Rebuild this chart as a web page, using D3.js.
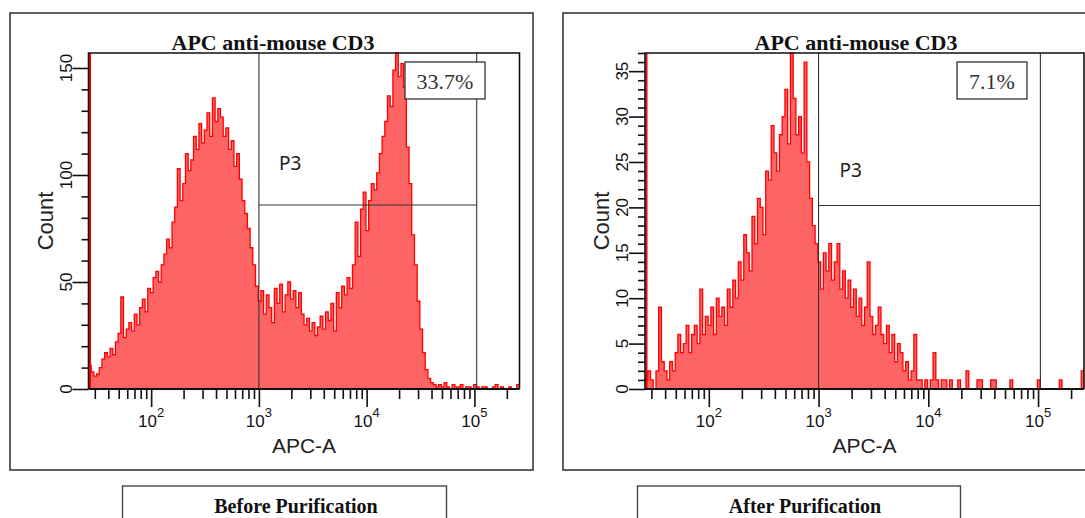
<!DOCTYPE html>
<html>
<head>
<meta charset="utf-8">
<script src="https://cdn.jsdelivr.net/npm/d3@7"></script>
<style>
  html, body { margin: 0; padding: 0; background: #fff; }
  svg { display: block; }
</style>
</head>
<body>
<svg id="chart" width="1085" height="518"></svg>
<script>
// APC-A intensity histograms, 160 equal-width bins on a 4-decade log axis
const xDomain = [26.2144, 262144];
const binCount = 160;

const beforeCounts = [
  11, 8, 6, 7, 10, 14, 17, 15, 19, 16, 22, 26, 43, 24, 28,
  31, 27, 35, 30, 38, 42, 36, 47, 45, 52, 55, 50, 58, 63, 70, 66,
  78, 85, 103, 88, 96, 110, 102, 107, 118, 112, 124, 115, 121, 129,
  118, 136, 125, 131, 127, 118, 122, 112, 116, 104, 110, 98, 88, 82, 75,
  66, 58, 48, 41, 46, 35, 44, 38, 31, 47, 40, 49, 36, 44, 50,
  42, 46, 38, 45, 35, 30, 33, 27, 31, 25, 29, 34, 28, 36, 32, 40,
  27, 45, 38, 48, 44, 52, 47, 58, 78, 62, 84, 92, 74, 88, 96, 93,
  101, 110, 118, 125, 137, 132, 149, 157, 146, 152, 141, 113, 96, 72,
  58, 41, 28, 17, 9, 5,
  3, 2, 1, 2, 1, 3, 1, 0, 2, 1, 1, 2, 0, 1, 1, 0, 2, 1, 0, 1,
  1, 0, 0, 1, 2, 0, 1, 0, 0, 1, 0, 0, 2
];

const afterCounts = [
  1, 2, 1, 0, 2, 9, 3, 2, 1, 3, 2, 4, 6, 4, 5, 7, 4, 6,
  7, 5, 11, 6, 8, 7, 9, 6, 10, 8, 9, 7, 11, 9, 12, 10,
  14, 12, 17, 15, 13, 19, 16, 21, 20, 17, 24, 23, 29, 26, 24, 28,
  30, 33, 27, 37, 32, 28, 30, 26, 36, 25, 21, 18, 16, 14, 11, 15,
  13, 16, 12, 14, 16, 11, 13, 10, 12, 9, 11, 8, 10, 7, 9, 14,
  8, 6, 7, 9, 6, 5, 7, 4, 6, 3, 5, 4, 2, 3, 1, 2, 6, 1, 1, 0,
  1, 0, 1, 4,
  1, 0, 1, 1, 0, 1, 0, 0, 1, 0, 0, 2, 0, 0, 0, 1, 1, 0, 0, 0,
  1, 1, 0, 0, 0, 0, 0, 1, 0, 0, 0, 0, 0, 0, 0, 0, 0, 1, 0, 0,
  0, 0, 0, 0, 0, 1, 0, 0, 0, 0, 0, 0, 0, 2
];

const beforeYTicks = [0, 50, 100, 150];
const afterYTicks = [0, 5, 10, 15, 20, 25, 30, 35];
const beforeYMinorStep = 10;
const afterYMinorStep = 1;
const yMaxima = [157, 37];
const decadeExponents = [2, 3, 4, 5];

const panelTitle = "APC anti-mouse CD3";
const xTitle = "APC-A";
const yTitle = "Count";
const gateName = "P3";
const gateRange = [1000, 105000];
const gateLevels = [86, 20.2];
const gatePercents = ["33.7%", "7.1%"];
const captions = ["Before Purification", "After Purification"];

// Panel geometry
const panels = [
  {
    counts: beforeCounts, yTicks: beforeYTicks, yMinor: beforeYMinorStep, yMax: yMaxima[0],
    frame: { x: 10, y: 13, w: 523, h: 457 },
    plot: { l: 88.5, r: 519.5, t: 53, b: 389 },
    titleX: 273, gateLabel: { dx: 20, y: 170 },
    pctBox: { x: 405, y: 62, w: 80, h: 37 }, pct: gatePercents[0],
    caption: captions[0], capBox: { x: 122.5, y: 486, w: 324 }, capX: 296
  },
  {
    counts: afterCounts, yTicks: afterYTicks, yMinor: afterYMinorStep, yMax: yMaxima[1],
    frame: { x: 563, y: 13, w: 530, h: 457 },
    plot: { l: 645, r: 1084, t: 53, b: 389 },
    titleX: 856, gateLabel: { dx: 21, y: 177 },
    pctBox: { x: 957, y: 62, w: 70, h: 37 }, pct: gatePercents[1],
    caption: captions[1], capBox: { x: 637.5, y: 486, w: 323 }, capX: 805
  }
];

const svg = d3.select("#chart");
svg.append("rect").attr("width", 1085).attr("height", 518).attr("fill", "#fff");

const sansFont = "'Liberation Sans', Arial, sans-serif";
const narrowFont = "'Liberation Sans Narrow', 'Liberation Sans', Arial, sans-serif";
const serifFont = "'Liberation Serif', 'Times New Roman', serif";

const logLo = Math.log10(xDomain[0]);
const logSpan = Math.log10(xDomain[1]) - logLo;
const binEdge = i => Math.pow(10, logLo + logSpan * i / binCount);

panels.forEach((p, pi) => {
  const g = svg.append("g");
  const { l, r, t, b } = p.plot;

  const x = d3.scaleLog().domain(xDomain).range([l, r]);
  const y = d3.scaleLinear().domain([0, p.yMax]).range([b, t]);

  // outer panel frame
  g.append("rect")
    .attr("x", p.frame.x).attr("y", p.frame.y)
    .attr("width", p.frame.w).attr("height", p.frame.h)
    .attr("fill", "none").attr("stroke", "#3a3a3a").attr("stroke-width", 1.6);

  // panel title
  g.append("text")
    .attr("x", p.titleX).attr("y", 50)
    .attr("text-anchor", "middle")
    .attr("font-family", serifFont).attr("font-weight", "bold")
    .attr("font-size", 22).attr("fill", "#111")
    .text(panelTitle);

  // histogram as a stepped area
  const pts = p.counts.map((c, i) => ({ v: binEdge(i), c }));
  pts.push({ v: binEdge(binCount), c: p.counts[p.counts.length - 1] });
  const clampY = c => y(Math.min(c, p.yMax));

  g.append("path")
    .datum(pts)
    .attr("fill", "#ff6464")
    .attr("d", d3.area().x(d => x(d.v)).y0(y(0)).y1(d => clampY(d.c)).curve(d3.curveStepAfter));
  g.append("path")
    .datum(pts)
    .attr("fill", "none").attr("stroke", "#ff0000").attr("stroke-width", 1.3)
    .attr("d", d3.line().x(d => x(d.v)).y(d => clampY(d.c)).curve(d3.curveStepAfter));

  // off-scale lowest channel along the left edge
  g.append("line")
    .attr("x1", x(xDomain[0]) + 1.5).attr("x2", x(xDomain[0]) + 1.5)
    .attr("y1", y(p.yMax)).attr("y2", y(0))
    .attr("stroke", "#ff0000").attr("stroke-width", 2);

  // gate P3
  const gx0 = x(gateRange[0]), gx1 = x(gateRange[1]), gy = y(gateLevels[pi]);
  const gate = g.append("g").attr("stroke", "#333").attr("stroke-width", 1.1);
  gate.append("line").attr("x1", gx0).attr("x2", gx0).attr("y1", t).attr("y2", b);
  gate.append("line").attr("x1", gx1).attr("x2", gx1).attr("y1", t).attr("y2", b);
  gate.append("line").attr("x1", gx0).attr("x2", gx1).attr("y1", gy).attr("y2", gy);

  g.append("text")
    .attr("x", gx0 + p.gateLabel.dx).attr("y", p.gateLabel.y)
    .attr("font-family", "'Noto Sans', 'Open Sans', sans-serif")
    .attr("font-size", 19).attr("fill", "#222")
    .text(gateName);

  // gate percentage box
  g.append("rect")
    .attr("x", p.pctBox.x).attr("y", p.pctBox.y)
    .attr("width", p.pctBox.w).attr("height", p.pctBox.h)
    .attr("fill", "#fff").attr("stroke", "#222").attr("stroke-width", 1.2);
  g.append("text")
    .attr("x", p.pctBox.x + p.pctBox.w / 2).attr("y", p.pctBox.y + 27)
    .attr("text-anchor", "middle")
    .attr("font-family", serifFont).attr("font-size", 22).attr("fill", "#333")
    .text(p.pct);

  // plot frame (top, left, right)
  g.append("path")
    .attr("d", `M${l},${b}V${t}H${r}V${b}`)
    .attr("fill", "none").attr("stroke", "#111").attr("stroke-width", 1.6);

  // x axis: decade majors and 2..9 minors
  const majors = decadeExponents.map(e => Math.pow(10, e));
  const minors = [];
  for (let e = 1; e <= 5; e++) {
    for (let m = 2; m <= 9; m++) {
      const v = m * Math.pow(10, e);
      if (v > xDomain[0] && v < xDomain[1]) minors.push(v);
    }
  }
  const xMinorAxis = d3.axisBottom(x).tickValues(minors).tickSize(10).tickFormat("");
  const xMajorAxis = d3.axisBottom(x).tickValues(majors).tickSize(18).tickFormat("");
  [xMinorAxis, xMajorAxis].forEach(ax => {
    const a = g.append("g").attr("transform", `translate(0,${b})`).call(ax);
    a.select(".domain").remove();
    a.selectAll(".tick line").attr("stroke", "#111").attr("stroke-width", 1.6);
  });
  const xl = g.append("g");
  decadeExponents.forEach(e => {
    const tx = xl.append("text")
      .attr("x", x(Math.pow(10, e))).attr("y", 427)
      .attr("text-anchor", "middle")
      .attr("font-family", narrowFont).attr("font-size", 17).attr("fill", "#111");
    tx.append("tspan").text("10");
    tx.append("tspan").attr("dy", -10).attr("font-size", 13).text(String(e));
  });

  // y axis: labelled majors and unlabelled minors
  const yMinors = d3.range(0, p.yMax + 1e-9, p.yMinor).filter(v => !p.yTicks.includes(v));
  const yMinorAxis = d3.axisLeft(y).tickValues(yMinors).tickSize(7).tickFormat("");
  const yMajorAxis = d3.axisLeft(y).tickValues(p.yTicks).tickSize(16).tickFormat("");
  [yMinorAxis, yMajorAxis].forEach(ax => {
    const a = g.append("g").attr("transform", `translate(${l},0)`).call(ax);
    a.select(".domain").remove();
    a.selectAll(".tick line").attr("stroke", "#111").attr("stroke-width", 1.6);
  });
  p.yTicks.forEach(v => {
    g.append("text")
      .attr("transform", `translate(${l - 17},${y(v)}) rotate(-90)`)
      .attr("text-anchor", "middle")
      .attr("font-family", narrowFont).attr("font-size", 17).attr("fill", "#111")
      .text(v);
  });

  // baseline
  g.append("line")
    .attr("x1", l).attr("x2", r).attr("y1", b).attr("y2", b)
    .attr("stroke", "#111").attr("stroke-width", 1.8);

  // axis titles
  g.append("text")
    .attr("x", (l + r) / 2).attr("y", 453)
    .attr("text-anchor", "middle")
    .attr("font-family", sansFont).attr("font-size", 21).attr("fill", "#222")
    .text(xTitle);
  g.append("text")
    .attr("transform", `translate(${l - 36},${(t + b) / 2}) rotate(-90)`)
    .attr("text-anchor", "middle")
    .attr("font-family", sansFont).attr("font-size", 22).attr("fill", "#222")
    .text(yTitle);

  // caption box below the panel
  g.append("rect")
    .attr("x", p.capBox.x).attr("y", p.capBox.y)
    .attr("width", p.capBox.w).attr("height", 50)
    .attr("fill", "#fff").attr("stroke", "#444").attr("stroke-width", 1.4);
  g.append("text")
    .attr("x", p.capX).attr("y", 513)
    .attr("text-anchor", "middle")
    .attr("font-family", serifFont).attr("font-weight", "bold")
    .attr("font-size", 20).attr("fill", "#111")
    .text(p.caption);
});
</script>
</body>
</html>
